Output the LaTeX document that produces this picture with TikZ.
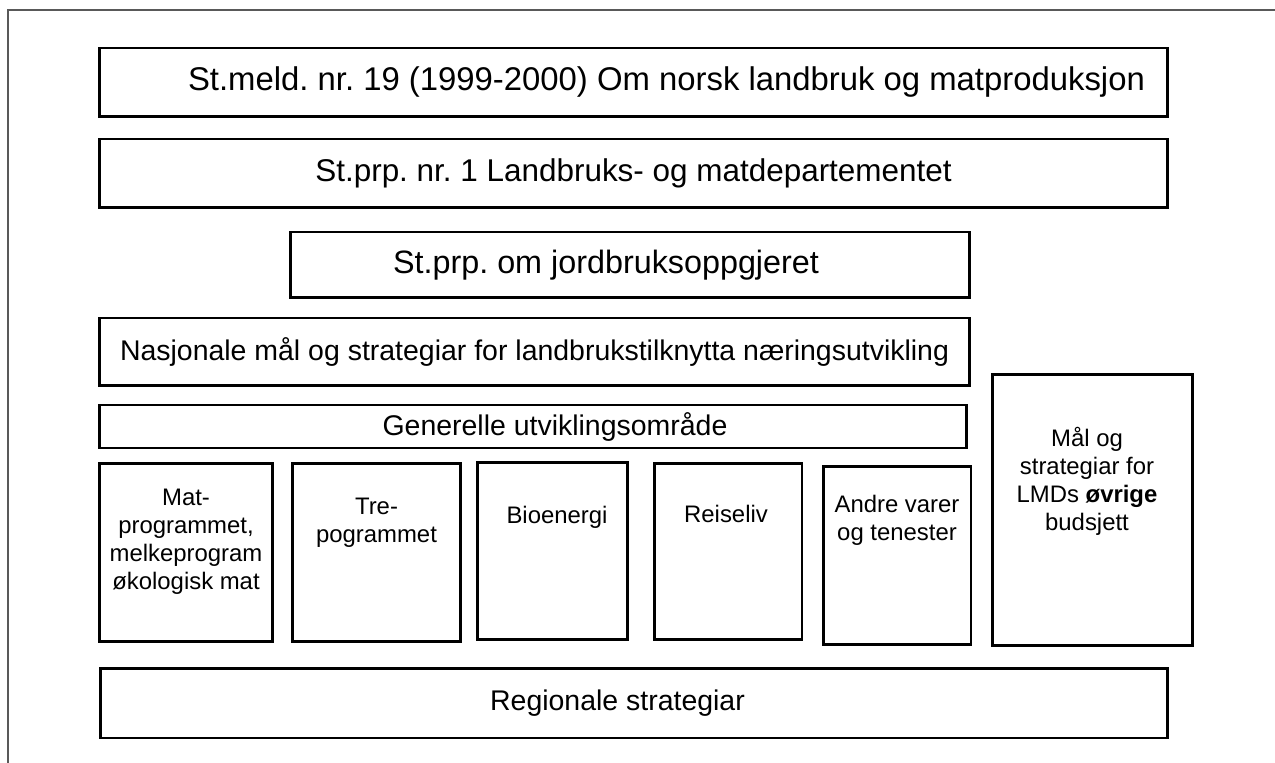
\documentclass[tikz,border=0pt]{standalone}
\usepackage{fontspec}
\setmainfont{Liberation Sans}
\usetikzlibrary{positioning}
\frenchspacing

\begin{document}
\begin{tikzpicture}[x=0.02cm,y=-0.02cm,
    box/.style={draw=black,line width=1.7pt,fill=white,inner sep=0pt},
    txt/.style={inner sep=0pt,align=center,font=\fontsize{16.2}{19}\selectfont},
    bigtxt/.style={txt,font=\fontsize{18.4}{22}\selectfont},
    smalltxt/.style={txt,font=\fontsize{13.6}{15.9}\selectfont}]

  % page size and frame lines
  \useasboundingbox (0,0) rectangle (1275,763);
  \draw[black!65,line width=0.6pt] (1275,10) -- (8,10) -- (8,763);

  % wide boxes
  \node[box,minimum width=21.38cm,minimum height=1.38cm] (meld) at (633.5,82.5) {};
  \node[box,minimum width=21.38cm,minimum height=1.38cm] (prp) at (633.5,173.5) {};
  \node[box,minimum width=13.6cm,minimum height=1.32cm] (jord) at (630,265) {};
  \node[box,minimum width=17.42cm,minimum height=1.36cm] (nasj) at (534.5,352) {};
  \node[box,minimum width=17.36cm,minimum height=0.86cm] (gen) at (533,426.5) {};
  \node[box,minimum width=21.36cm,minimum height=1.4cm] (reg) at (634,703) {};

  \node[bigtxt,font=\fontsize{18.7}{22}\selectfont] (meldtxt) at ([xshift=0.66cm]meld.center)
    {St.meld. nr. 19 (1999-2000) Om norsk landbruk og matproduksjon};
  \node[bigtxt,font=\fontsize{17.9}{22}\selectfont] (prptxt) at (prp.center)
    {St.prp. nr. 1 Landbruks- og matdepartementet};
  \node[bigtxt] (jordtxt) at ([xshift=-0.48cm]jord.center) {St.prp. om jordbruksoppgjeret};
  \node[txt] (nasjtxt) at (nasj.center)
    {Nasjonale mål og strategiar for landbrukstilknytta næringsutvikling};
  \node[txt] (gentxt) at ([xshift=0.44cm]gen.center) {Generelle utviklingsområde};
  \node[txt] (regtxt) at ([xshift=-0.33cm]reg.center) {Regionale strategiar};

  % programme boxes
  \foreach \name/\x/\y/\w/\h in {mat/186/552.5/3.48/3.58, tre/376.5/552.5/3.38/3.58,
      bio/552.5/551/3.02/3.56, reis/728/551.5/2.96/3.54, andre/897/555.5/2.96/3.58,
      lmd/1092.5/510/4.02/5.44} {
    \node[box,minimum width=\w cm,minimum height=\h cm] (\name) at (\x,\y) {};
  };

  \node[smalltxt] (mattxt) at (186,542)
    {Mat-\\programmet,\\melkeprogram\\økologisk mat};
  \node[smalltxt] (tretxt) at (376.5,523) {Tre-\\pogrammet};
  \node[smalltxt] (biotxt) at (557,517) {Bioenergi};
  \node[smalltxt] (reistxt) at (726,514) {Reiseliv};
  \node[smalltxt] (andretxt) at (897,520) {Andre varer\\og tenester};
  \node[smalltxt] (lmdtxt) at (1087,481)
    {Mål og\\strategiar for\\LMDs \textbf{øvrige}\\budsjett};

\end{tikzpicture}
\end{document}
